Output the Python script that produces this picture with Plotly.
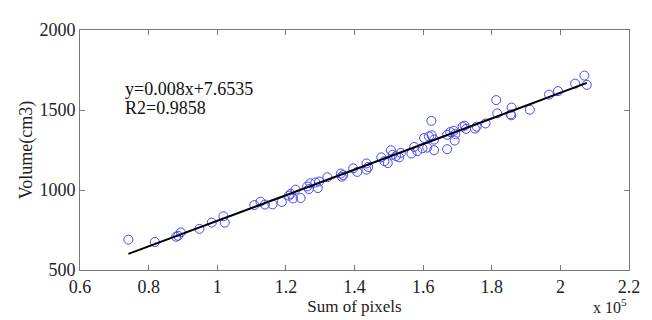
import plotly.graph_objects as go
import numpy as np

# Data: sum of pixels (raw) and volume (cm3)
sum_pixels = [74100, 81800, 88000, 88600, 89400, 94800, 98400, 101800, 102200,
              110800, 112600, 113900, 116100, 118800, 120900, 121400, 122100, 122800,
              124300, 126200, 126700, 127100, 128600, 129300, 129700, 132100, 136000,
              136300, 136700, 139600, 140800, 143500, 144000, 143500, 147800, 148700,
              149700, 150600, 151100, 152100, 153000, 153500, 156600, 157400, 158300,
              159800, 160300, 161200, 161700, 162400, 162500, 163200, 163200, 167000,
              167000, 167900, 168900, 169400, 169200, 171500, 172100, 172500, 175100,
              175600, 178200, 181300, 181600, 185500, 185800, 185700, 191100, 196700,
              199300, 204300, 207000, 207700]
volume = [690, 675, 708, 714, 735, 757, 796, 836, 796,
          906, 927, 909, 910, 925, 965, 976, 947, 1002,
          950, 1022, 1006, 1042, 1047, 1012, 1053, 1080, 1103,
          1083, 1093, 1135, 1113, 1166, 1144, 1127, 1204, 1180,
          1168, 1248, 1220, 1212, 1204, 1232, 1228, 1269, 1243,
          1261, 1325, 1265, 1335, 1432, 1342, 1315, 1249, 1255,
          1345, 1362, 1370, 1350, 1309, 1396, 1402, 1382, 1384,
          1396, 1416, 1562, 1479, 1473, 1515, 1467, 1502, 1596,
          1618, 1665, 1715, 1657]

slope = 0.008
intercept = 7.6535
equation_text = "y=0.008x+7.6535"
r2_text = "R2=0.9858"

x_tickvals = [60000, 80000, 100000, 120000, 140000, 160000, 180000, 200000, 220000]
x_ticktext = ["0.6", "0.8", "1", "1.2", "1.4", "1.6", "1.8", "2", "2.2"]
y_tickvals = [500, 1000, 1500, 2000]

font_family = "Liberation Serif, Times New Roman, serif"

line_x = np.array([min(sum_pixels), max(sum_pixels)])
line_y = slope * line_x + intercept

fig = go.Figure()
fig.add_trace(go.Scatter(
    x=sum_pixels, y=volume, mode="markers",
    marker=dict(symbol="circle-open", size=9, color="rgb(70,70,255)",
                line=dict(width=1, color="rgb(70,70,255)")),
    showlegend=False, hoverinfo="skip"))
fig.add_trace(go.Scatter(
    x=line_x, y=line_y, mode="lines",
    line=dict(color="black", width=2), showlegend=False, hoverinfo="skip"))

axis_common = dict(showline=True, linecolor="#777", linewidth=1, mirror="ticks",
                   ticks="inside", ticklen=5, tickcolor="#777", showgrid=False,
                   zeroline=False, tickfont=dict(family=font_family, size=18, color="#222"))

fig.update_xaxes(range=[60000, 220000], tickvals=x_tickvals, ticktext=x_ticktext,
                 title=dict(text="Sum of pixels", font=dict(family=font_family, size=17, color="#222"),
                            standoff=0),
                 **axis_common)
fig.update_yaxes(range=[500, 2000], tickvals=y_tickvals, ticklabelstandoff=0,
                 title=dict(text="Volume(cm3)", font=dict(family=font_family, size=18, color="#222"),
                            standoff=2),
                 **axis_common)

fig.add_annotation(xref="paper", yref="paper", x=0.078, y=0.755, xanchor="left", yanchor="middle",
                   text=equation_text, showarrow=False,
                   font=dict(family=font_family, size=18, color="#111"))
fig.add_annotation(xref="paper", yref="paper", x=0.078, y=0.675, xanchor="left", yanchor="middle",
                   text=r2_text, showarrow=False,
                   font=dict(family=font_family, size=18, color="#111"))
fig.add_annotation(xref="paper", yref="paper", x=1.0, y=-0.1, xanchor="right", yanchor="top",
                   text="x 10<sup>5</sup>", showarrow=False,
                   font=dict(family=font_family, size=16, color="#222"))

fig.update_layout(width=644, height=312, margin=dict(l=72, r=16, t=14, b=50),
                  paper_bgcolor="white", plot_bgcolor="white",
                  font=dict(family=font_family))

fig.write_html("out.html")
